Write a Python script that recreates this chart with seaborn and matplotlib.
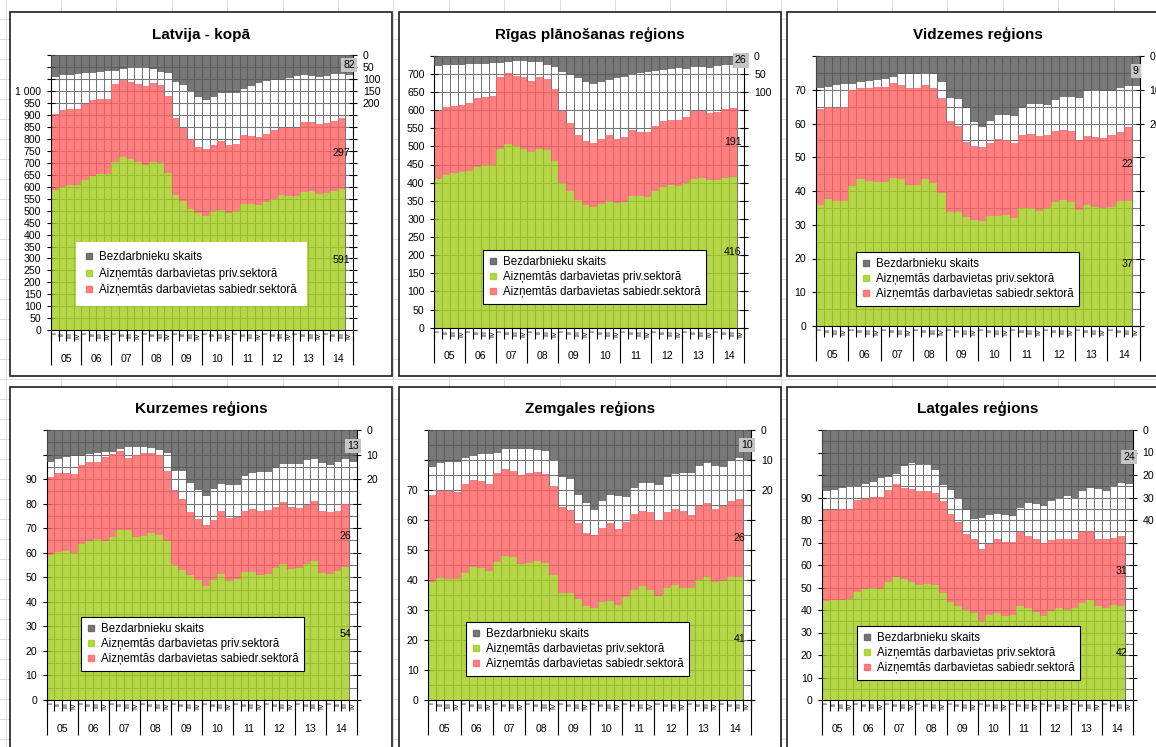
import numpy as np
import pandas as pd
import matplotlib
matplotlib.use("Agg")
import matplotlib.pyplot as plt
import seaborn as sns
from matplotlib.lines import Line2D
from matplotlib.patches import Rectangle

# ---------------- data ----------------
years = ["05", "06", "07", "08", "09", "10", "11", "12", "13", "14"]
quarters = ["I", "II", "III", "IV"]
titles = ["Latvija - kopā", "Rīgas plānošanas reģions", "Vidzemes reģions",
          "Kurzemes reģions", "Zemgales reģions", "Latgales reģions"]
legend_labels = ["Bezdarbnieku skaits",
                 "Aizņemtās darbavietas priv.sektorā",
                 "Aizņemtās darbavietas sabiedr.sektorā"]

lv_priv = [585, 600, 606, 606, 627, 645, 652, 652, 703, 724, 714, 703, 692, 703, 699, 655, 565, 541, 505, 488,
           477, 497, 501, 492, 499, 529, 526, 522, 536, 550, 564, 560, 560, 578, 581, 568, 575, 582, 591]
lv_publ = [320, 320, 318, 318, 320, 317, 315, 315, 325, 321, 325, 325, 328, 329, 326, 324, 323, 305, 293, 276,
           279, 276, 291, 283, 279, 288, 287, 286, 286, 286, 282, 286, 286, 294, 291, 295, 292, 292, 297]
lv_unemp = [90, 85, 82, 79, 76, 74, 71, 68, 65, 60, 49, 49, 51, 57, 71, 76, 111, 125, 149, 176,
            190, 174, 160, 160, 160, 143, 129, 115, 107, 104, 104, 96, 88, 85, 88, 93, 88, 79, 81, 82]

rig_priv = [409, 422, 426, 428, 432, 442, 448, 450, 494, 507, 501, 493, 484, 492, 489, 461, 400, 377, 351, 338,
            333, 342, 350, 344, 347, 363, 363, 361, 377, 388, 394, 392, 399, 411, 414, 408, 408, 414, 416]
rig_publ = [188, 186, 185, 185, 188, 192, 189, 189, 197, 196, 194, 198, 196, 198, 198, 198, 197, 188, 179, 176,
            177, 179, 180, 177, 178, 181, 176, 178, 179, 181, 180, 182, 181, 187, 184, 185, 188, 188, 191]
rig_unemp = [28, 26, 26, 26, 24, 23, 22, 21, 19, 17, 15, 15, 17, 18, 26, 30, 44, 53, 62, 72,
             79, 73, 67, 62, 58, 51, 49, 46, 42, 39, 37, 35, 37, 31, 31, 33, 29, 26, 26, 26]

vid_priv = [36.0, 37.6, 37.1, 37.1, 41.4, 43.5, 42.9, 42.7, 42.7, 44.0, 43.5, 41.9, 41.7, 43.5, 42.4, 39.3, 33.8,
            33.8, 32.2, 31.4, 31.1, 32.7, 32.7, 32.9, 31.9, 34.9, 34.9, 34.1, 34.9, 36.6, 37.3, 36.8, 34.5, 35.8,
            35.3, 34.9, 35.3, 37.1, 37.0]
vid_publ = [28.2, 27.3, 27.5, 27.8, 28.4, 27.0, 27.6, 28.1, 28.1, 28.1, 27.8, 28.6, 28.8, 28.0, 28.1, 28.2, 26.8,
            25.4, 22.3, 21.9, 21.8, 21.6, 22.8, 22.1, 22.3, 21.8, 22.1, 22.2, 21.6, 21.1, 20.9, 21.0, 20.5, 20.4,
            20.7, 20.8, 21.4, 20.4, 22.0]
vid_unemp = [9.4, 9.1, 8.6, 8.4, 8.4, 7.8, 7.4, 7.1, 6.8, 6.1, 5.3, 5.3, 5.3, 5.1, 5.4, 7.8, 12.3, 12.8, 15.5, 19.6,
             20.9, 19.2, 17.6, 17.6, 17.9, 15.3, 14.3, 14.3, 14.5, 13.0, 12.0, 12.0, 12.3, 10.5, 10.0, 10.5, 10.5,
             9.4, 8.8, 9.0]

kur_priv = [58.9, 60.3, 60.9, 60.0, 63.6, 64.7, 65.4, 64.7, 66.6, 69.1, 69.3, 66.4, 67.0, 68.2, 67.4, 64.7, 55.1,
            52.8, 50.8, 48.8, 46.4, 48.8, 51.2, 48.4, 49.2, 52.2, 52.2, 50.8, 51.5, 53.8, 55.3, 53.2, 53.8, 55.5,
            56.5, 51.9, 51.2, 52.6, 54.0]
kur_publ = [32.0, 32.0, 31.7, 32.0, 32.2, 32.1, 31.4, 34.1, 33.5, 32.4, 29.2, 33.5, 33.8, 32.3, 32.5, 28.4, 30.4,
            29.1, 25.7, 25.0, 24.7, 24.6, 26.0, 25.8, 25.3, 25.0, 25.6, 26.1, 25.9, 24.7, 25.2, 25.6, 24.4, 24.1,
            24.4, 25.3, 25.3, 24.6, 26.0]
kur_unemp = [13.2, 11.8, 10.8, 10.4, 10.4, 9.7, 9.2, 9.1, 8.8, 7.8, 7.0, 7.0, 7.0, 7.4, 8.1, 9.5, 16.5, 16.9, 21.4,
             24.6, 26.8, 24.1, 22.0, 22.3, 22.3, 18.9, 17.6, 17.3, 17.3, 15.5, 13.8, 13.8, 13.8, 12.4, 11.9, 13.5,
             14.2, 13.2, 12.0, 13.0]

zem_priv = [39.2, 40.7, 40.3, 40.3, 42.2, 44.2, 43.9, 42.9, 46.1, 48.0, 47.6, 45.3, 45.7, 46.4, 45.8, 41.7, 35.7,
            35.7, 33.7, 31.4, 30.6, 32.8, 33.1, 31.8, 34.4, 36.8, 37.9, 36.8, 34.8, 37.2, 38.4, 37.2, 37.2, 40.0,
            41.1, 39.2, 39.8, 41.1, 41.0]
zem_publ = [29.2, 29.1, 29.5, 29.1, 29.8, 29.1, 29.2, 29.1, 29.6, 29.0, 28.8, 29.7, 30.0, 29.5, 29.5, 29.5, 28.7,
            27.6, 25.2, 24.2, 24.4, 24.5, 25.8, 25.2, 24.8, 25.2, 25.0, 25.8, 25.3, 25.6, 25.3, 25.7, 24.5, 24.8,
            24.5, 24.5, 25.0, 25.1, 26.0]
zem_unemp = [12.2, 11.1, 10.6, 10.6, 9.4, 8.7, 8.1, 8.1, 7.6, 6.4, 6.4, 6.4, 6.4, 6.7, 6.9, 10.0, 15.6, 16.4, 21.7,
             24.2, 26.7, 23.6, 21.7, 22.0, 22.4, 19.4, 17.8, 17.8, 18.3, 15.6, 14.7, 14.4, 14.2, 12.0, 11.1, 12.0,
             12.4, 10.2, 9.4, 10.0]

lat_priv = [43.8, 44.5, 44.5, 44.8, 47.9, 49.2, 50.0, 49.2, 52.6, 54.5, 53.7, 52.6, 50.9, 51.6, 51.2, 47.5, 43.5,
            42.0, 40.1, 38.6, 35.2, 37.9, 38.6, 37.4, 37.9, 42.0, 40.8, 39.0, 37.4, 39.6, 40.8, 39.8, 41.1, 43.3,
            44.5, 41.8, 41.1, 42.3, 42.0]
lat_publ = [40.6, 39.9, 40.3, 40.3, 40.9, 40.1, 40.3, 40.8, 40.9, 41.3, 40.7, 41.1, 41.9, 41.2, 41.0, 41.0, 39.0,
            36.9, 33.7, 32.9, 31.7, 31.4, 32.9, 32.7, 32.2, 32.5, 32.1, 32.5, 32.2, 31.5, 30.7, 31.6, 30.4, 31.2,
            30.6, 29.7, 30.3, 29.8, 31.0]
lat_unemp = [27.3, 26.6, 25.8, 25.1, 25.1, 23.9, 22.9, 21.4, 20.7, 19.5, 16.2, 14.8, 15.1, 15.1, 17.7, 24.4, 26.6,
             30.3, 35.7, 39.4, 39.1, 37.7, 37.2, 37.7, 38.1, 34.7, 32.5, 32.9, 33.7, 31.5, 30.3, 29.2, 30.0, 26.9,
             25.8, 26.1, 26.9, 24.8, 23.6, 24.0]

# ---------------- style ----------------
sns.set_theme(style="white")
plt.rcParams['font.family'] = ['Liberation Sans', 'DejaVu Sans']
for k in ['text.color', 'axes.labelcolor', 'xtick.color', 'ytick.color']:
    plt.rcParams[k] = 'black'

GREEN = '#a1cc1a'
RED = '#ff6060'
GREY = '#565656'
ALPHA = 0.8
GRID = '#767676'

W, H = 1156, 747
fig = plt.figure(figsize=(W / 100, H / 100), dpi=100)
fig.patch.set_facecolor('white')

# spreadsheet background + chart frames
bg = fig.add_axes([0, 0, 1, 1], zorder=-5)
bg.set_xlim(0, W)
bg.set_ylim(H, 0)
bg.axis('off')
for xx in np.arange(5.5, W, 55.4):
    bg.axvline(xx, color='#dcdcdc', lw=0.7, zorder=0)
for yy in np.arange(379 - 20 * 19, H, 20):
    bg.axhline(yy, color='#dcdcdc', lw=0.7, zorder=0)
frames = [(10, 12, 392, 376), (399, 12, 781, 376), (787, 12, 1175, 376),
          (10, 387, 392, 760), (399, 387, 781, 760), (787, 387, 1175, 760)]
for (x0, y0, x1, y1) in frames:
    bg.add_patch(Rectangle((x0, y0), x1 - x0, y1 - y0, facecolor='white',
                           edgecolor='#1e1e1e', lw=1.2, zorder=2))

panels = [
    dict(priv=lv_priv, publ=lv_publ, unemp=lv_unemp, ymax=1150, step=50, grid=50, lmax=1000, rmax=200,
         rect=(51, 55, 353, 330.3), title_xy=(201, 35), leg=(76, 242), frame=False),
    dict(priv=rig_priv, publ=rig_publ, unemp=rig_unemp, ymax=750, step=50, grid=50, lmax=700, rmax=100,
         rect=(434.3, 55.7, 744.4, 327.7), title_xy=(590, 35), leg=(483, 250), frame=True),
    dict(priv=vid_priv, publ=vid_publ, unemp=vid_unemp, ymax=80, step=10, grid=5, lmax=70, rmax=20,
         rect=(816, 56, 1139.8, 326), title_xy=(978, 35), leg=(856, 252), frame=True),
    dict(priv=kur_priv, publ=kur_publ, unemp=kur_unemp, ymax=110, step=10, grid=5, lmax=90, rmax=20,
         rect=(46.7, 430, 356.8, 700), title_xy=(201, 408), leg=(81, 617), frame=True),
    dict(priv=zem_priv, publ=zem_publ, unemp=zem_unemp, ymax=90, step=10, grid=5, lmax=70, rmax=20,
         rect=(428.3, 430, 751.4, 700), title_xy=(590, 408), leg=(466, 622), frame=True),
    dict(priv=lat_priv, publ=lat_publ, unemp=lat_unemp, ymax=120, step=10, grid=5, lmax=90, rmax=40,
         rect=(822.3, 430, 1132.8, 700), title_xy=(978, 408), leg=(857, 626), frame=True),
]

cats = [f"{y}-{q}" for y in years for q in quarters]
nslots = len(cats)


def fmt(v):
    return f"{int(v):,}".replace(",", " ")


for title, p in zip(titles, panels):
    l, t, r, b = p['rect']
    ax = fig.add_axes([l / W, 1 - b / H, (r - l) / W, (b - t) / H], zorder=1)
    ax.set_facecolor('white')
    ax2 = ax.twinx()

    n = len(p['priv'])
    df = pd.DataFrame({'q': cats[:n], 'priv': p['priv'], 'publ': p['publ']})
    dfu = pd.DataFrame({'q': cats[:len(p['unemp'])], 'unemp': p['unemp']})

    sns.barplot(data=df, x='q', y='priv', order=cats, orient='x', color=GREEN, saturation=1,
                alpha=ALPHA, width=1, errorbar=None, linewidth=0, ax=ax)
    sns.barplot(data=df, x='q', y='publ', order=cats, orient='x', color=RED, saturation=1,
                alpha=ALPHA, width=1, errorbar=None, linewidth=0, bottom=np.asarray(p['priv']), ax=ax)
    sns.barplot(data=dfu, x='q', y='unemp', order=cats, orient='x', color=GREY, saturation=1,
                alpha=ALPHA, width=1, errorbar=None, linewidth=0, ax=ax2)

    ymax = p['ymax']
    ax.set_ylim(0, ymax)
    ax2.set_ylim(ymax, 0)
    ax.set_xlim(-0.5, nslots - 0.5)
    for a in (ax, ax2):
        a.set_xlabel('')
        a.set_ylabel('')

    # y axes
    yt = np.arange(0, ymax + 0.1, p['step'])
    ax.set_yticks(yt, labels=[fmt(v) if v <= p['lmax'] else '' for v in yt])
    ax.set_yticks(np.arange(0, ymax + 0.1, p['grid']), minor=True)
    ax.tick_params(axis='y', which='major', left=True, direction='inout', length=6, width=0.8,
                   labelsize=7.6, pad=4)
    ax.tick_params(axis='y', which='minor', left=False, length=0)
    ax2.set_yticks(yt, labels=[fmt(v) if v <= p['rmax'] else '' for v in yt])
    ax2.tick_params(axis='y', which='major', right=True, direction='inout', length=6, width=0.8,
                    labelsize=7.6, pad=4)
    ax2.grid(False)

    # x axis: quarter boundaries / quarter labels
    ax.set_xticks(np.arange(-0.5, nslots, 1), labels=[''] * (nslots + 1))
    ax.set_xticks(np.arange(nslots), labels=quarters * len(years), minor=True)
    ax.tick_params(axis='x', which='major', bottom=True, direction='out', length=8, width=0.8)
    ax.tick_params(axis='x', which='minor', bottom=True, length=0, labelsize=5.2, pad=1.5, labelrotation=90)

    sec = ax.secondary_xaxis('bottom')
    sec.set_xticks(np.arange(-0.5, nslots, 4), labels=[''] * (len(years) + 1))
    sec.set_xticks(np.arange(1.5, nslots, 4), labels=years, minor=True)
    sec.tick_params(axis='x', which='major', bottom=True, direction='out', length=25, width=0.8)
    sec.tick_params(axis='x', which='minor', bottom=True, length=0, labelsize=7.6, pad=17)
    sec.spines['bottom'].set_visible(False)

    # grid
    ax.set_axisbelow(True)
    ax.grid(False)
    ax.yaxis.grid(True, which='both', color=GRID, lw=0.75)
    ax.xaxis.grid(True, which='major', color=GRID, lw=0.75)

    # spines
    for s in ['top', 'right']:
        ax.spines[s].set_visible(False)
    for s in ['left', 'bottom']:
        ax.spines[s].set_color('black')
        ax.spines[s].set_linewidth(0.8)
    for s in ['left', 'top', 'bottom']:
        ax2.spines[s].set_visible(False)
    ax2.spines['right'].set_color('black')
    ax2.spines['right'].set_linewidth(0.8)

    # data labels on the last values
    ip = len(p['priv']) - 1
    ax.text(ip, p['priv'][-1] / 2, f"{p['priv'][-1]:.0f}", ha='center', va='center', fontsize=7.6, zorder=5)
    ax.text(ip, p['priv'][-1] + p['publ'][-1] / 2, f"{p['publ'][-1]:.0f}", ha='center', va='center',
            fontsize=7.6, zorder=5)
    iu = len(p['unemp']) - 1
    ax2.text(iu, p['unemp'][-1] / 2, f"{p['unemp'][-1]:.0f}", ha='center', va='center', fontsize=7.6,
             zorder=5, bbox=dict(boxstyle='square,pad=0.2', fc='#c4c4c4', ec='none'))

    # legend
    handles = [Line2D([], [], marker='s', linestyle='', color=c, alpha=ALPHA, markersize=4)
               for c in (GREY, GREEN, RED)]
    lx, ly = p['leg']
    if p['frame']:
        bp, ls = 0.5, 0.28
    else:
        bp, ls = 0.8, 0.38
    leg = ax2.legend(handles, legend_labels, loc='upper left', bbox_to_anchor=(lx / W, 1 - ly / H),
                     bbox_transform=fig.transFigure, frameon=True, fancybox=False, framealpha=1,
                     fontsize=8.3, borderpad=bp, labelspacing=ls, handlelength=0.7, handletextpad=0.5,
                     borderaxespad=0)
    leg.get_frame().set_facecolor('white')
    leg.get_frame().set_edgecolor('black' if p['frame'] else 'white')
    leg.get_frame().set_linewidth(0.8)

    bg.text(p['title_xy'][0], p['title_xy'][1], title, ha='center', va='center', fontsize=11,
            fontweight='bold', zorder=3)

fig.savefig('out.png', dpi=100, facecolor='white')
